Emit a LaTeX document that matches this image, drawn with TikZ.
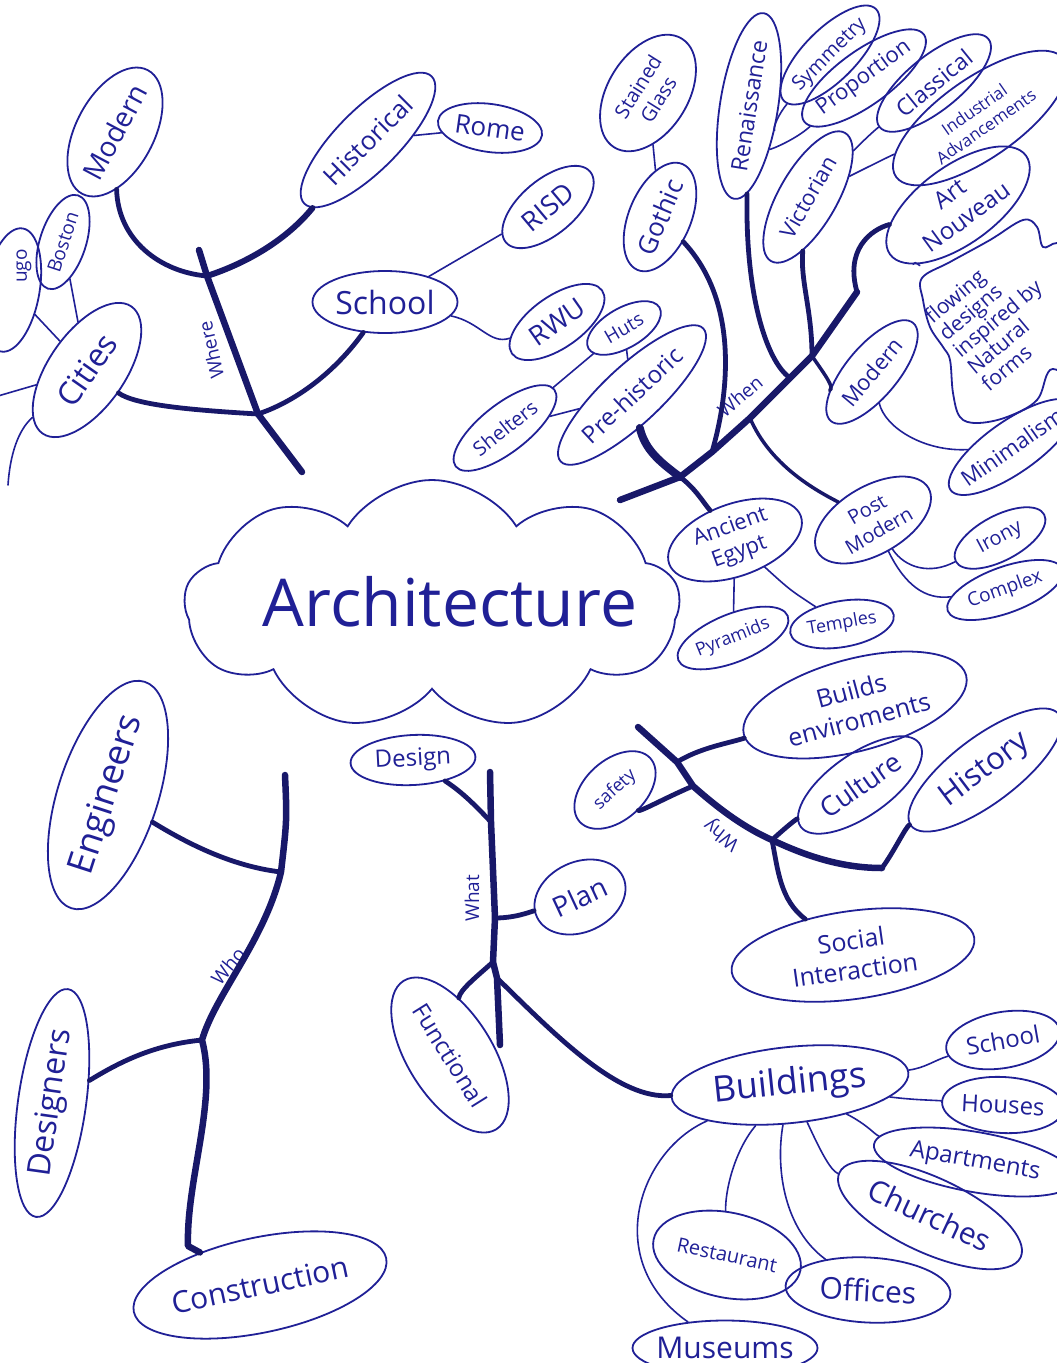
\documentclass[tikz,border=0pt]{standalone}
\usepackage{fontspec}
\setmainfont{Open Sans}
\usetikzlibrary{shapes.geometric,shapes.symbols}
\definecolor{ink}{RGB}{32,32,150}
\definecolor{deep}{RGB}{24,24,105}
\tikzset{
  bubble/.style={ellipse, draw=ink, line width=1.8pt, inner sep=0pt},
  lab/.style={text=ink, inner sep=0pt, align=center},
  trunk/.style={draw=deep, line width=6.5pt, line cap=round, line join=round},
  twig/.style={draw=deep, line width=4.8pt, line cap=round},
  wire/.style={draw=ink, line width=1.6pt, line cap=round},
  armlabel/.style={text=ink, inner sep=0pt, font=\fontsize{19}{21}\selectfont}
}
% \bub{name}{x,y}{angle}{long axis}{short axis}{font size}{text}
\newcommand\bub[7]{%
  \node[bubble, rotate=#3, minimum width=#4pt, minimum height=#5pt] (#1) at (#2) {};
  \node[lab, rotate=#3, font=\fontsize{#6}{\the\dimexpr #6pt*6/5\relax}\selectfont] (#1t) at (#1.center) {#7};}
\begin{document}
\begin{tikzpicture}[x=1pt,y=-1pt]
\useasboundingbox (0,0) rectangle (1057,1363);

% ---------- centre ----------
\node[cloud, draw=ink, line width=1.8pt, cloud puffs=9, cloud puff arc=115, aspect=2,
      minimum width=495pt, minimum height=250pt, inner sep=0pt] (arch) at (432,605) {};
\node[lab, font=\fontsize{66}{66}\selectfont] (archt) at (450,602) {Architecture};

% ---------- where ----------
\bub{modernA}{115,132}{62}{140}{78}{28}{Modern}
\bub{hist}{368,140}{45}{180}{62}{26}{Historical}
\bub{rome}{490,128}{-8}{105}{48}{26}{Rome}
\bub{boston}{63,242}{72}{98}{46}{19}{Boston}
\bub{cities}{87,370}{55}{155}{76}{32}{Cities}
\node[bubble, rotate=80, minimum width=125pt, minimum height=55pt] (chicago) at (12,290) {};
\node[lab, rotate=90, font=\fontsize{19}{21}\selectfont] (chicagot) at (24,266) {ugo};
\bub{school}{385,302}{0}{145}{62}{32}{School}
\bub{risd}{548,207}{40}{110}{55}{27}{RISD}
\bub{rwu}{557,322}{35}{110}{52}{27}{RWU}

% ---------- when ----------
\bub{stained}{648,93}{58}{128}{80}{20}{Stained\\Glass}
\bub{gothic}{660,217}{67}{115}{62}{26}{Gothic}
\bub{renais}{749,106}{81}{188}{58}{23}{Renaissance}
\bub{symm}{830,55}{45}{130}{52}{20}{Symmetry}
\bub{prop}{864,78}{36}{148}{54}{22}{Proportion}
\bub{class}{934,83}{39}{140}{54}{23}{Classical}
\bub{indus}{980,118}{35}{205}{80}{17}{Industrial\\Advancements}
\bub{vict}{808,197}{60}{148}{58}{22}{Victorian}
\bub{artn}{958,205}{36}{168}{78}{24}{Art\\Nouveau}
\node[inner sep=0pt, minimum width=150pt, minimum height=190pt] (flow) at (995,322) {};
\draw[ink, line width=1.8pt] plot[smooth cycle, tension=0.6] coordinates {
  (922,278) (950,262) (990,240) (1023,220) (1037,227) (1043,247) (1057,243) (1075,250)
  (1075,365) (1050,370) (1037,400) (1007,417) (977,423) (960,417) (953,393) (950,360)
  (943,347) (930,327) (923,300)};
\node[lab, rotate=40, align=left, font=\fontsize{21}{22}\selectfont] (flowt) at (997,318)
  {flowing\\designs\\inspired by\\Natural\\forms};
\bub{modernW}{872,372}{50}{128}{52}{22}{Modern}
\bub{minimal}{1012,447}{35}{150}{52}{22}{Minimalism}
\bub{prehist}{632,395}{43}{195}{58}{24}{Pre-historic}
\bub{huts}{624,328}{30}{82}{40}{19}{Huts}
\bub{shelters}{505,428}{38}{125}{48}{20}{Shelters}
\bub{egypt}{735,540}{20}{140}{72}{22}{Ancient\\Egypt}
\bub{pyr}{733,638}{22}{118}{48}{18}{Pyramids}
\bub{temples}{842,624}{10}{105}{46}{18}{Temples}
\bub{postm}{873,520}{30}{128}{68}{20}{Post\\Modern}
\bub{irony}{1000,538}{28}{100}{45}{20}{Irony}
\bub{complex}{1005,590}{20}{122}{46}{19}{Complex}

% ---------- why ----------
\bub{builds}{855,705}{15}{230}{92}{25}{Builds\\enviroments}
\bub{safety}{615,790}{42}{95}{60}{18}{safety}
\bub{culture}{860,785}{35}{145}{62}{27}{Culture}
\bub{history}{985,770}{37}{185}{66}{31}{History}
\bub{social}{853,955}{8}{245}{88}{25}{Social\\Interaction}

% ---------- what ----------
\bub{design}{413,760}{3}{125}{50}{24}{Design}
\bub{plan}{580,897}{25}{95}{70}{28}{Plan}
\bub{func}{450,1055}{-58}{175}{85}{24}{Functional}
\bub{buildings}{790,1085}{6}{238}{76}{36}{Buildings}
\bub{schoolB}{1003,1040}{10}{115}{56}{24}{School}
\bub{houses}{1003,1105}{-3}{122}{56}{24}{Houses}
\bub{apart}{975,1162}{-10}{205}{60}{24}{Apartments}
\bub{church}{930,1215}{-25}{200}{75}{30}{Churches}
\bub{rest}{727,1255}{-12}{150}{85}{20}{Restaurant}
\bub{offices}{868,1290}{-3}{165}{65}{30}{Offices}
\bub{museums}{725,1348}{0}{185}{55}{30}{Museums}

% ---------- who ----------
\bub{eng}{108,795}{72}{238}{100}{36}{Engineers}
\bub{designers}{52,1103}{82}{230}{68}{32}{Designers}
\bub{constr}{260,1285}{12}{258}{95}{30}{Construction}

% ---------- branch labels ----------
\node[armlabel, rotate=103] (whereL) at (211,350) {Where};
\node[armlabel, rotate=40] (whenL) at (740,396) {When};
\node[armlabel, rotate=142] (whyL) at (722,834) {Why};
\node[armlabel, rotate=90] (whatL) at (472,898) {What};
\node[armlabel, rotate=50] (whoL) at (228,966) {Who};

% ---------- where arms ----------
\coordinate (wtop) at (199,250);
\coordinate (wj1) at (207,276);
\coordinate (wj2) at (258,414);
\coordinate (wbot) at (302,472);
\draw[trunk] (wtop) -- (wj1) -- (wj2) -- (wbot);
\draw[twig] (wj1) .. controls (160,272) and (118,240) .. (modernA);
\draw[twig, line width=6pt] (wj1) .. controls (250,262) and (288,238) .. (hist);
\draw[twig] (wj2) .. controls (190,410) and (135,405) .. (cities);
\draw[twig] (wj2) .. controls (300,400) and (338,368) .. (school);
\draw[wire] (hist) -- (rome);
\draw[wire] (boston) -- (cities);
\draw[wire] (chicago) -- (cities);
\coordinate (cl1) at (-2,396);
\coordinate (cl2) at (8,485);
\draw[wire] (cities) -- (cl1);
\draw[wire] (cities) .. controls (18,430) and (10,455) .. (cl2);
\draw[wire] (school) -- (risd);
\draw[wire] (school) .. controls (480,322) and (490,345) .. (rwu);

% ---------- when arms ----------
\coordinate (nst) at (620,500);
\coordinate (nj1) at (680,477);
\coordinate (nj2) at (712,452);
\coordinate (nj3) at (750,418);
\coordinate (nj4) at (790,378);
\coordinate (nj5) at (812,356);
\coordinate (ntop) at (857,292);
\draw[trunk] (nst) -- (nj1) -- (nj2) -- (nj3) -- (nj4) -- (nj5) -- (ntop);
\draw[twig, line width=8pt] (nj1) .. controls (660,462) and (645,450) .. (prehist);
\draw[twig] (nj1) .. controls (695,488) and (703,502) .. (egypt);
\draw[twig] (nj2) .. controls (730,390) and (738,300) .. (gothic);
\draw[twig] (nj4) .. controls (765,360) and (745,290) .. (renais);
\draw[twig] (nj5) .. controls (812,310) and (800,280) .. (vict);
\draw[twig] (ntop) .. controls (845,250) and (870,230) .. (artn);
\draw[twig, line width=3.5pt] (nj5) .. controls (825,375) and (835,388) .. (modernW);
\draw[twig, line width=3.5pt] (nj3) .. controls (770,465) and (815,490) .. (postm);
\draw[wire] (stained) -- (gothic);
\draw[wire] (renais) .. controls (772,128) and (780,112) .. (symm);
\draw[wire] (renais) .. controls (770,150) and (795,140) .. (prop);
\draw[wire] (vict) .. controls (866,138) and (875,130) .. (class);
\draw[wire] (vict) .. controls (872,165) and (890,156) .. (indus);
\draw[wire] (artn) .. controls (915,262) .. (flow);
\draw[wire] (modernW) .. controls (885,428) and (925,452) .. (minimal);
\draw[wire] (huts) -- (prehist);
\draw[wire] (shelters) -- (prehist);
\draw[wire] (shelters) -- (huts);
\draw[wire] (egypt) -- (pyr);
\draw[wire] (egypt) .. controls (790,590) .. (temples);
\draw[wire] (postm) .. controls (905,568) and (930,575) .. (irony);
\draw[wire] (postm) .. controls (905,585) and (925,600) .. (complex);

% ---------- why arms ----------
\coordinate (yst) at (638,727);
\coordinate (yj1) at (677,762);
\coordinate (yj2) at (693,786);
\coordinate (yj3) at (772,840);
\coordinate (yj4) at (882,868);
\draw[trunk] (yst) -- (yj1) -- (yj2) .. controls (720,810) and (745,828) .. (yj3)
  .. controls (810,858) and (845,868) .. (yj4);
\draw[twig] (yj1) .. controls (700,748) and (725,744) .. (builds);
\draw[twig] (yj2) .. controls (665,798) and (640,812) .. (safety);
\draw[twig] (yj3) .. controls (785,828) and (795,820) .. (culture);
\draw[twig] (yj3) .. controls (778,870) and (780,900) .. (social);
\draw[twig] (yj4) .. controls (895,850) and (905,828) .. (history);

% ---------- what arms ----------
\coordinate (tst) at (490,772);
\coordinate (tj1) at (491,822);
\coordinate (tj2) at (495,918);
\coordinate (tj3) at (493,962);
\coordinate (tj4) at (497,978);
\coordinate (tend) at (500,1045);
\draw[trunk] (tst) -- (tj1) -- (tj2) -- (tj3) -- (tj4) -- (tend);
\draw[twig] (tj1) .. controls (475,805) and (462,792) .. (design);
\draw[twig] (tj2) .. controls (515,918) and (530,912) .. (plan);
\draw[twig] (tj3) .. controls (475,978) and (460,990) .. (func);
\draw[twig] (tj4) .. controls (560,1040) and (620,1100) .. (buildings);
\draw[wire] (buildings) .. controls (640,1150) and (600,1260) .. (museums);
\draw[wire] (buildings) .. controls (735,1150) and (725,1190) .. (rest);
\draw[wire] (buildings) .. controls (775,1170) and (785,1230) .. (offices);
\draw[wire] (buildings) .. controls (820,1150) and (830,1170) .. (church);
\draw[wire] (buildings) .. controls (868,1125) and (875,1135) .. (apart);
\draw[wire] (buildings) .. controls (925,1068) and (935,1060) .. (schoolB);
\draw[wire] (buildings) .. controls (915,1100) and (930,1100) .. (houses);

% ---------- who arms ----------
\coordinate (ost) at (285,775);
\coordinate (oj1) at (281,872);
\coordinate (oj2) at (202,1040);
\coordinate (oj3) at (188,1246);
\draw[trunk] (ost) .. controls (287,820) .. (oj1) .. controls (265,940) and (215,995) .. (oj2)
  .. controls (218,1100) and (186,1180) .. (oj3) -- (constr);
\draw[twig] (oj1) .. controls (230,866) and (185,842) .. (eng);
\draw[twig] (oj2) .. controls (150,1045) and (115,1065) .. (designers);
\end{tikzpicture}
\end{document}
